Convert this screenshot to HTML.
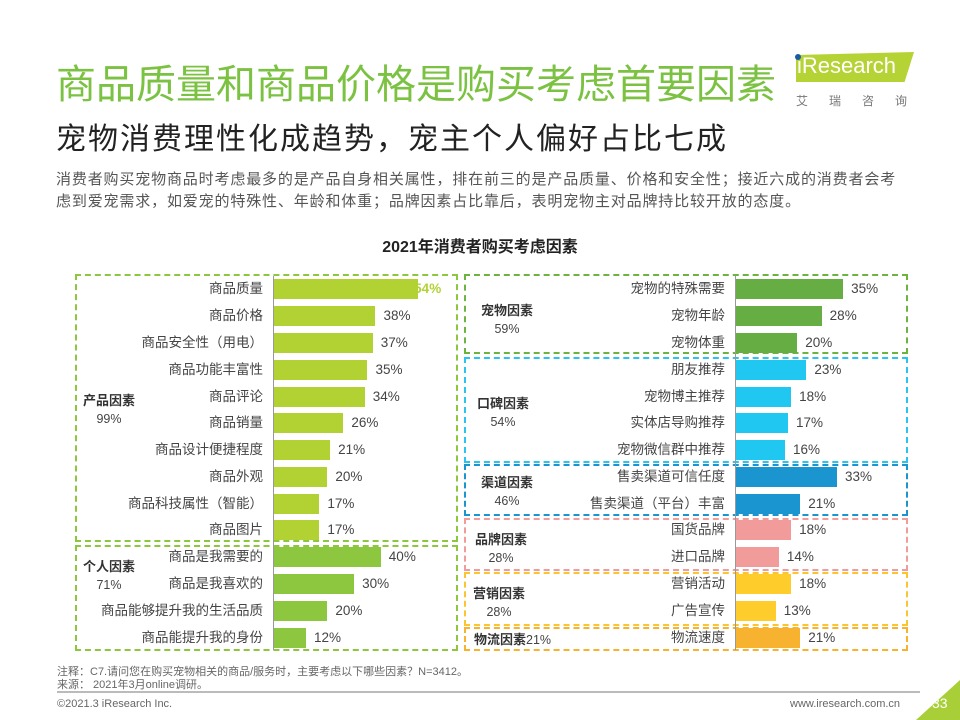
<!DOCTYPE html><html><head><meta charset="utf-8"><style>
body{margin:0;width:960px;height:720px;position:relative;background:#fff;font-family:"Liberation Sans","Noto Sans CJK SC",sans-serif;overflow:hidden;color:#444}
.a{position:absolute;white-space:nowrap}
.l{position:absolute;text-align:right;font-size:13.5px;color:#444;line-height:20px}
.b{position:absolute;height:20px}
.v{position:absolute;font-size:13.5px;color:#444;line-height:20px}
.box{position:absolute;border:2px dashed;box-sizing:border-box}
.g{position:absolute;font-size:12.5px;color:#444;line-height:18px;text-align:center}
.g b{font-size:13px;color:#333}
</style></head><body>
<div class="a" style="left:56px;top:52px;font-size:40px;color:#7cc242">商品质量和商品价格是购买考虑首要因素</div>
<div class="a" style="left:56px;top:114px;font-size:30px;letter-spacing:2px;color:#222">宠物消费理性化成趋势，宠主个人偏好占比七成</div>
<div class="a" style="left:56px;top:169px;font-size:15px;letter-spacing:0.85px;color:#555;line-height:22px">消费者购买宠物商品时考虑最多的是产品自身相关属性，排在前三的是产品质量、价格和安全性；接近六成的消费者会考<br>虑到爱宠需求，如爱宠的特殊性、年龄和体重；品牌因素占比靠后，表明宠物主对品牌持比较开放的态度。</div>
<div class="a" style="left:0;width:960px;top:233px;text-align:center;font-size:16px;font-weight:bold;color:#222">2021年消费者购买考虑因素</div>
<div class="a" style="left:796px;top:52px;width:118px;height:30px;background:#b5d334;clip-path:polygon(0 10%,100% 0,92% 100%,0 100%)"></div>
<div class="a" style="left:797px;top:53px;font-size:22px;color:#fff">iResearch</div>
<div class="a" style="left:795px;top:54px;width:6px;height:6px;border-radius:50%;background:#1c5aa6"></div>
<div class="a" style="left:796px;top:92px;font-size:12px;color:#777;letter-spacing:21px">艾瑞咨询</div>
<div class="box" style="left:75px;top:274px;width:383px;height:268px;border-color:#8dc63f"></div>
<div class="box" style="left:75px;top:545px;width:383px;height:106px;border-color:#8dc63f"></div>
<div class="box" style="left:464px;top:274px;width:444px;height:80px;border-color:#6db33f"></div>
<div class="box" style="left:464px;top:357px;width:444px;height:106px;border-color:#29c5f0"></div>
<div class="box" style="left:464px;top:464px;width:444px;height:52px;border-color:#1b95d0"></div>
<div class="box" style="left:464px;top:518px;width:444px;height:53px;border-color:#f29b9b"></div>
<div class="box" style="left:464px;top:572px;width:444px;height:54px;border-color:#fbc531"></div>
<div class="box" style="left:464px;top:627px;width:444px;height:24px;border-color:#f7b330"></div>
<div class="a" style="left:273px;top:276px;width:1px;height:374px;background:#999"></div>
<div class="a" style="left:735px;top:276px;width:1px;height:374px;background:#999"></div>
<div class="g" style="left:78px;top:392px;width:62px"><b>产品因素</b><br>99%</div>
<div class="g" style="left:78px;top:558px;width:62px"><b>个人因素</b><br>71%</div>
<div class="g" style="left:476px;top:302px;width:62px"><b>宠物因素</b><br>59%</div>
<div class="g" style="left:472px;top:395px;width:62px"><b>口碑因素</b><br>54%</div>
<div class="g" style="left:476px;top:474px;width:62px"><b>渠道因素</b><br>46%</div>
<div class="g" style="left:470px;top:531px;width:62px"><b>品牌因素</b><br>28%</div>
<div class="g" style="left:468px;top:585px;width:62px"><b>营销因素</b><br>28%</div>
<div class="g" style="left:474px;top:631px;width:90px;text-align:left"><b>物流因素</b>21%</div>
<div id="rows"></div>
<script>
var Ly=[289,316,343,370,397,423,450,477,504,530,557,584,611,638];
var L=[["商品质量",54,"#b2d234"],["商品价格",38,"#b2d234"],["商品安全性（用电）",37,"#b2d234"],["商品功能丰富性",35,"#b2d234"],["商品评论",34,"#b2d234"],["商品销量",26,"#b2d234"],["商品设计便捷程度",21,"#b2d234"],["商品外观",20,"#b2d234"],["商品科技属性（智能）",17,"#b2d234"],["商品图片",17,"#b2d234"],["商品是我需要的",40,"#8dc63f"],["商品是我喜欢的",30,"#8dc63f"],["商品能够提升我的生活品质",20,"#8dc63f"],["商品能提升我的身份",12,"#8dc63f"]];
var R=[["宠物的特殊需要",35,"#66ad44"],["宠物年龄",28,"#66ad44"],["宠物体重",20,"#66ad44"],["朋友推荐",23,"#20c7f1"],["宠物博主推荐",18,"#20c7f1"],["实体店导购推荐",17,"#20c7f1"],["宠物微信群中推荐",16,"#20c7f1"],["售卖渠道可信任度",33,"#1b95d0"],["售卖渠道（平台）丰富",21,"#1b95d0"],["国货品牌",18,"#f29b9b"],["进口品牌",14,"#f29b9b"],["营销活动",18,"#ffcd2b"],["广告宣传",13,"#ffcd2b"],["物流速度",21,"#f7b330"]];
var h="";
function add(a,x0,sc){for(var i=0;i<a.length;i++){var y=Ly[i]-10,w=a[i][1]*sc;
h+='<div class="l" style="left:'+(x0-250)+'px;width:240px;top:'+y+'px">'+a[i][0]+'</div>';
h+='<div class="b" style="left:'+(x0+1)+'px;top:'+y+'px;width:'+w+'px;background:'+a[i][2]+'"></div>';
var c=(a[i][1]==54)?'color:#b2d234;font-weight:bold;left:'+(x0+w-3)+'px':'left:'+(x0+w+9)+'px';
h+='<div class="v" style="top:'+y+'px;'+c+'">'+a[i][1]+'%</div>';}}
add(L,273,2.67);add(R,735,3.06);
document.getElementById("rows").innerHTML=h;
</script>
<div class="a" style="left:57px;top:666px;font-size:11px;color:#666;line-height:13px">注释：C7.请问您在购买宠物相关的商品/服务时，主要考虑以下哪些因素？N=3412。<br>来源： 2021年3月online调研。</div>
<div class="a" style="left:57px;top:691px;width:863px;height:2px;background:#bbb"></div>
<div class="a" style="left:57px;top:698px;font-size:11px;color:#666">©2021.3 iResearch Inc.</div>
<div class="a" style="left:790px;top:698px;font-size:11px;color:#666">www.iresearch.com.cn</div>
<div class="a" style="left:916px;top:680px;width:44px;height:40px;background:#a8cf38;clip-path:polygon(100% 0,100% 100%,0 100%)"></div>
<div class="a" style="left:932px;top:695px;font-size:14px;color:#fff">33</div>
</body></html>
